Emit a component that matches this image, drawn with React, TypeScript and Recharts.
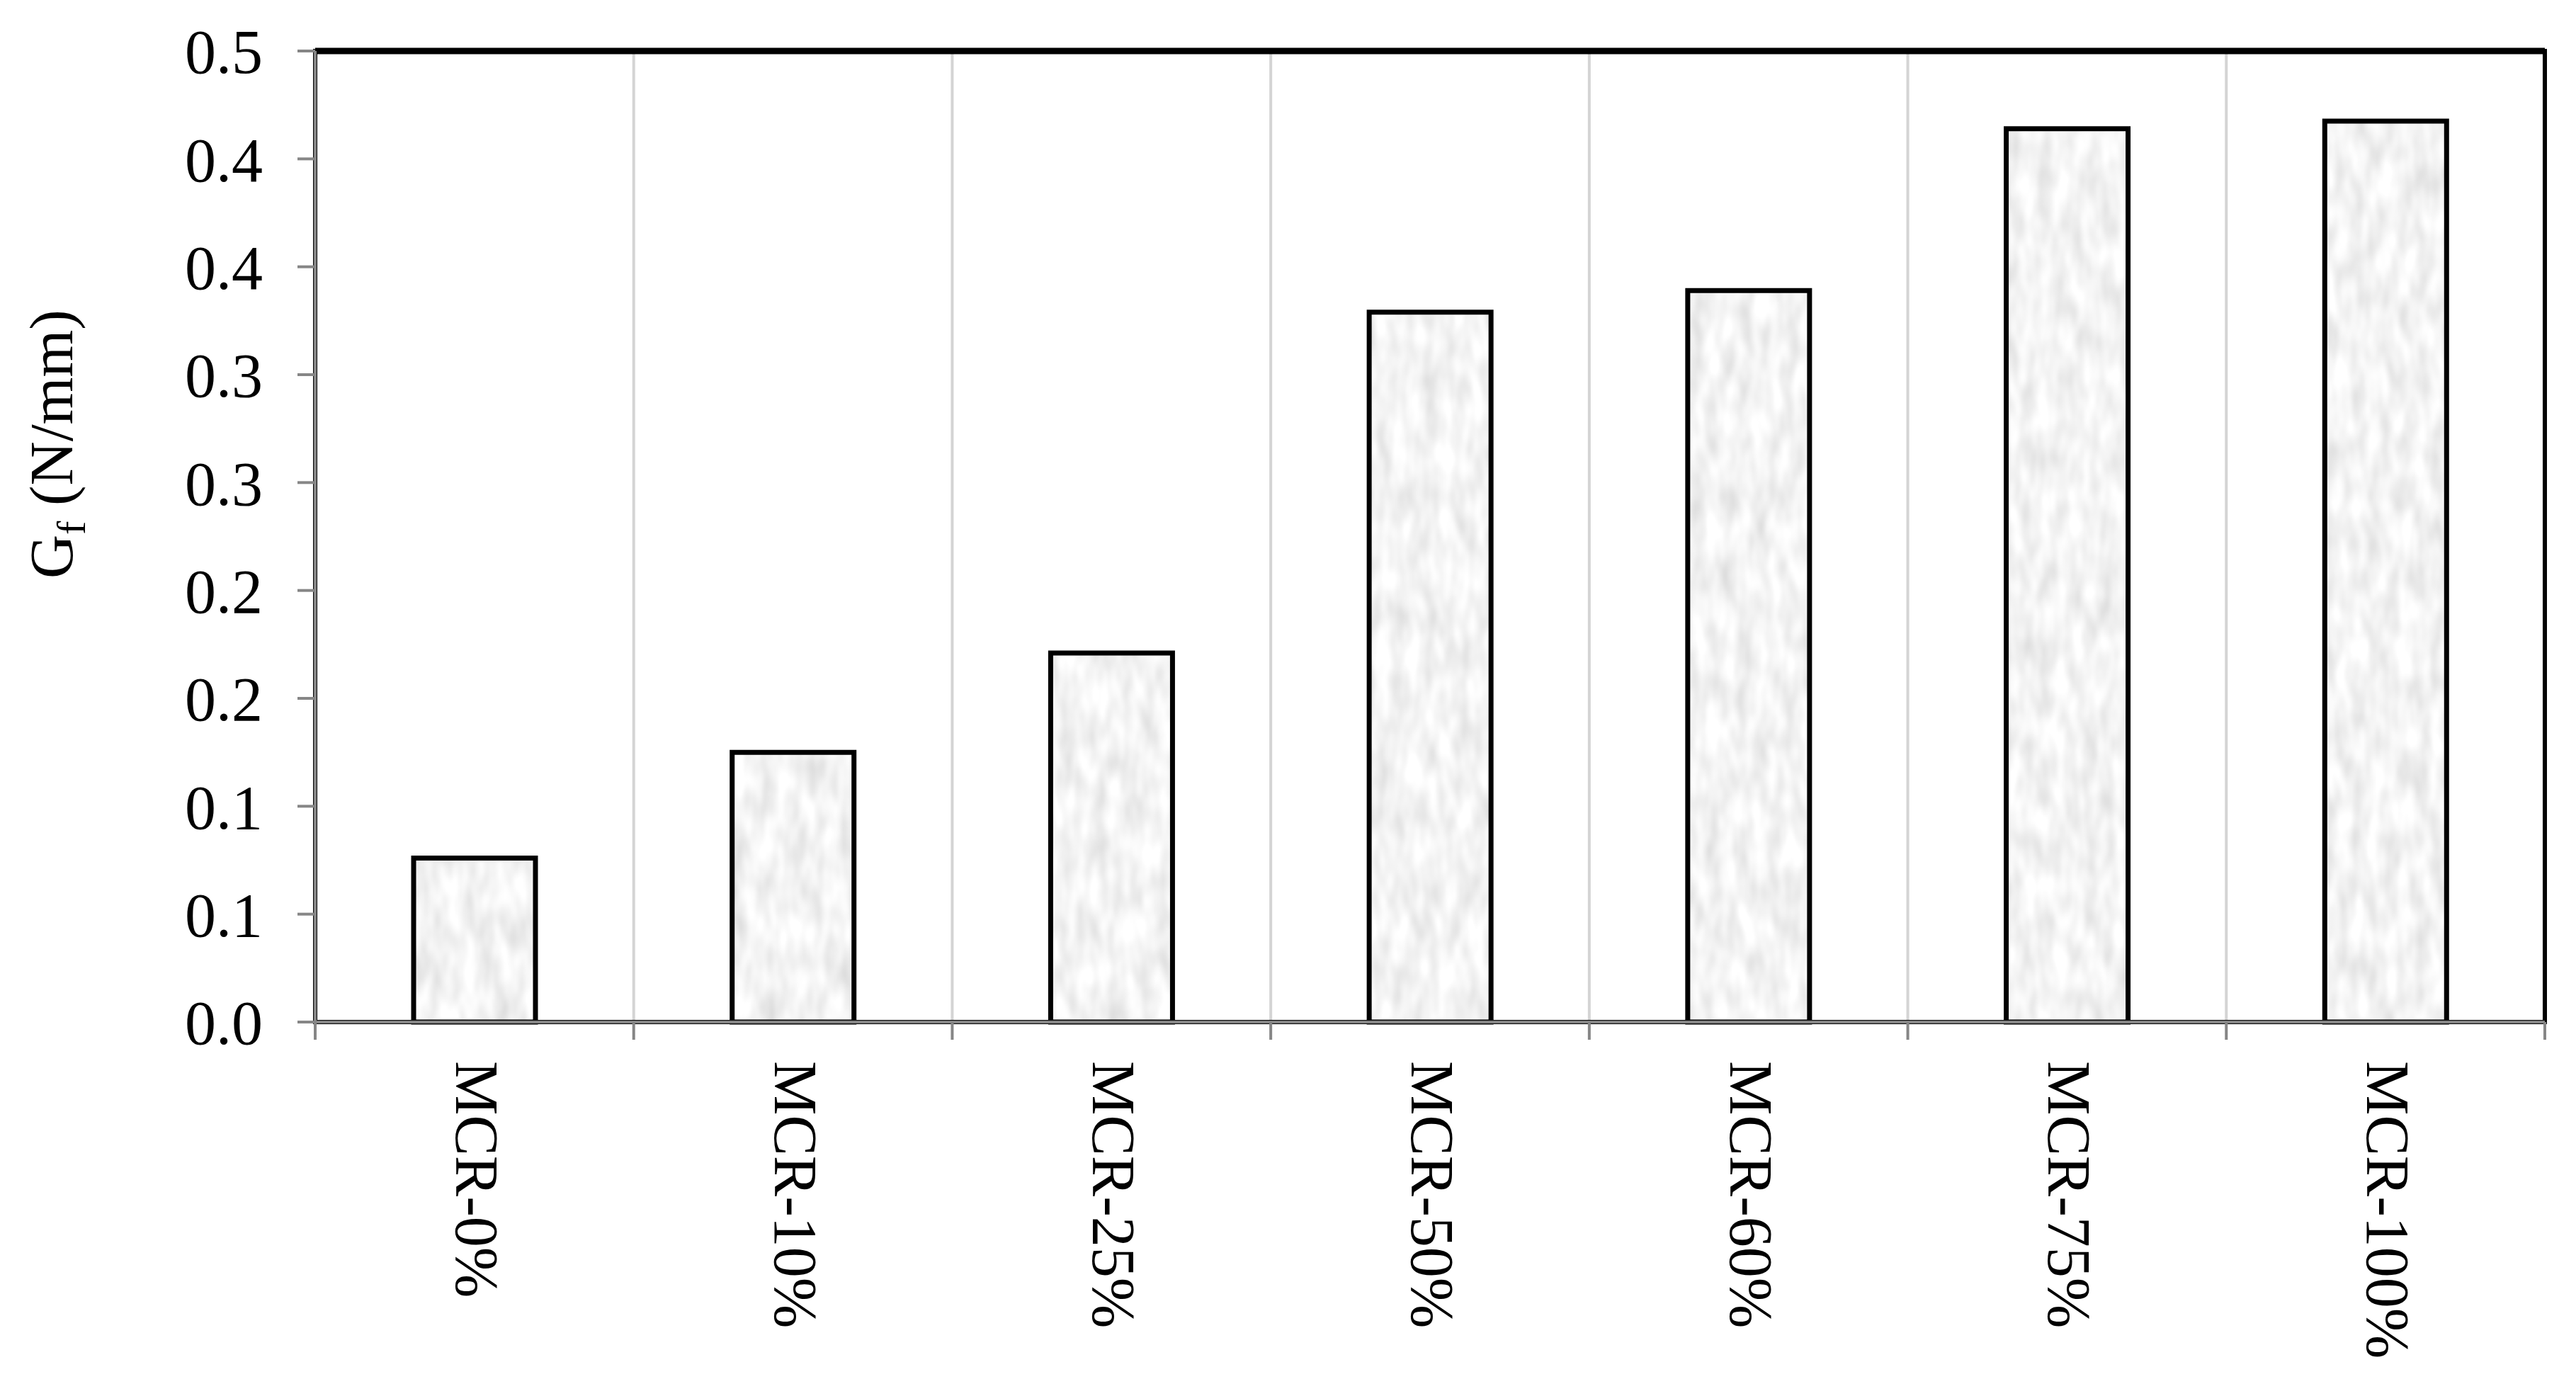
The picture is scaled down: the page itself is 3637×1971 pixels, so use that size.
import React from "react";
import {
  BarChart,
  Bar,
  XAxis,
  YAxis,
  CartesianGrid,
  ReferenceArea,
  ReferenceLine,
} from "recharts";

const categories = ["MCR-0%", "MCR-10%", "MCR-25%", "MCR-50%", "MCR-60%", "MCR-75%", "MCR-100%"];
const gfValues = [0.076, 0.125, 0.171, 0.329, 0.339, 0.414, 0.4175];
const yTicks = [0, 0.05, 0.1, 0.15, 0.2, 0.25, 0.3, 0.35, 0.4, 0.45];
const yTickLabels = ["0.0", "0.1", "0.1", "0.2", "0.2", "0.3", "0.3", "0.4", "0.4", "0.5"];
const yMax = 0.45;
const yTitleMain = "G";
const yTitleSub = "f";
const yTitleRest = " (N/mm)";

const data = categories.map((c, i) => ({ name: c, gf: gfValues[i] }));

const W = 3621;
const H = 1955;
const MARGIN = { top: 64, right: 36, bottom: 0, left: 0 };
const Y_AXIS_W = 437;
const X_AXIS_H = 520;
const PLOT_W = W - MARGIN.left - MARGIN.right - Y_AXIS_W;
const BAND = PLOT_W / categories.length;
const FONT = "'Liberation Serif', 'Times New Roman', serif";
const AXIS_GREY = "#868686";
const GRID = "#d4d4d4";

const XTick = (props: any) => {
  const { x, y, payload, index } = props;
  const left = x - BAND / 2;
  const right = x + BAND / 2;
  return (
    <g>
      <line x1={left} y1={y} x2={left} y2={y + 25} stroke={AXIS_GREY} strokeWidth={4} />
      {index === categories.length - 1 && (
        <line x1={right} y1={y} x2={right} y2={y + 25} stroke={AXIS_GREY} strokeWidth={4} />
      )}
      <text
        transform={`translate(${x - 26}, ${y + 55}) rotate(90)`}
        textAnchor="start"
        fontFamily={FONT}
        fontSize={86}
        fill="#000"
      >
        {payload.value}
      </text>
    </g>
  );
};

const YTitle = () => (
  <text
    transform="translate(94, 619) rotate(-90)"
    textAnchor="middle"
    fontFamily={FONT}
    fontSize={86}
    fill="#000"
  >
    {yTitleMain}
    <tspan fontSize={58} dy={18}>{yTitleSub}</tspan>
    <tspan dy={-18}>{yTitleRest}</tspan>
  </text>
);

export default function App() {
  return (
    <div style={{ width: W, height: H, background: "#fff" }}>
      <BarChart width={W} height={H} data={data} margin={MARGIN} barSize={172}>
        <defs>
          <filter id="barNoise" x="0" y="0" width="100%" height="100%">
            <feTurbulence type="fractalNoise" baseFrequency="0.045 0.018" numOctaves={2} seed={3} />
            <feColorMatrix
              type="matrix"
              values="0.45 0 0 0 0.68  0.45 0 0 0 0.68  0.45 0 0 0 0.68  0 0 0 0 1"
            />
          </filter>
          <pattern id="barTex" patternUnits="userSpaceOnUse" x={0} y={0} width={W} height={H}>
            <rect width={W} height={H} fill="#e8e8e8" filter="url(#barNoise)" />
          </pattern>
        </defs>
        <CartesianGrid
          stroke={GRID}
          strokeWidth={4}
          verticalCoordinatesGenerator={({ offset }: any) =>
            categories.map((_, i) => offset.left + i * (offset.width / categories.length))
          }
        />
        <ReferenceArea
          yAxisId="left"
          y1={0}
          y2={yMax}
          fill="none"
          stroke="#000"
          strokeWidth={6}
          ifOverflow="visible"
        />
        <ReferenceLine
          yAxisId="left"
          y={yMax}
          stroke="#000"
          strokeWidth={9}
          ifOverflow="visible"
        />
        <XAxis
          dataKey="name"
          height={X_AXIS_H}
          tickSize={0}
          tickMargin={0}
          tickLine={false}
          axisLine={{ stroke: AXIS_GREY, strokeWidth: 4 }}
          tick={<XTick />}
          interval={0}
        />
        <YAxis
          yAxisId="left"
          width={Y_AXIS_W}
          domain={[0, yMax]}
          ticks={yTicks}
          interval={0}
          tickFormatter={(_v: number, i: number) => yTickLabels[i]}
          tickSize={25}
          tickMargin={49}
          tickLine={{ stroke: AXIS_GREY, strokeWidth: 4 }}
          axisLine={{ stroke: AXIS_GREY, strokeWidth: 4 }}
          tick={{ fontSize: 88, fill: "#000", fontFamily: FONT }}
          label={<YTitle />}
        />
        <YAxis
          yAxisId="right"
          orientation="right"
          width={0}
          domain={[0, yMax]}
          tick={false}
          tickLine={false}
          axisLine={{ stroke: "#000", strokeWidth: 8 }}
        />
        <Bar
          yAxisId="left"
          dataKey="gf"
          fill="url(#barTex)"
          stroke="#000"
          strokeWidth={7}
          isAnimationActive={false}
        />
      </BarChart>
    </div>
  );
}
